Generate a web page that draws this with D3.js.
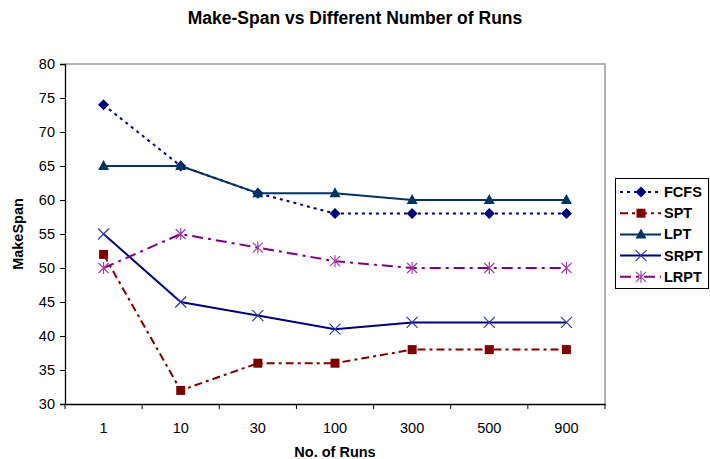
<!DOCTYPE html>
<html><head><meta charset="utf-8">
<script src="https://cdn.jsdelivr.net/npm/d3@7"></script>
<style>body{margin:0;background:#fff}svg{display:block;font-family:"Liberation Sans",Arial,sans-serif}</style>
</head><body><svg id="c" width="710" height="459"></svg>
<script>
const categories = ["1","10","30","100","300","500","900"];
const FCFS = [74,65,61,58,58,58,58];
const SPT  = [52,32,36,36,38,38,38];
const LPT  = [65,65,61,61,60,60,60];
const SRPT = [55,45,43,41,42,42,42];
const LRPT = [50,55,53,51,50,50,50];
const yTicks = [30,35,40,45,50,55,60,65,70,75,80];

const series = [
  {name:"FCFS", values:FCFS, color:"#000080", dash:"3,4", marker:"diamond"},
  {name:"SPT",  values:SPT,  color:"#800000", dash:"8,4,3,4", marker:"square"},
  {name:"LPT",  values:LPT,  color:"#003366", dash:null, marker:"triangle"},
  {name:"SRPT", values:SRPT, color:"#000080", dash:null, marker:"x"},
  {name:"LRPT", values:LRPT, color:"#800080", dash:"11,5,3,5", marker:"star"}
];

const svg = d3.select("#c");
const L=65, R=605, T=64, B=404;
const x = d3.scaleBand().domain(categories).range([L,R]);
const y = d3.scaleLinear().domain([30,80]).range([B,T]);

svg.append("path").attr("d",`M${L},${T}H${R}V${B}`).attr("fill","none").attr("stroke","#999").attr("stroke-width",1.5);

const ya = svg.append("g").attr("transform",`translate(${L},0)`)
  .call(d3.axisLeft(y).tickValues(yTicks).tickSize(5).tickPadding(5));
ya.select(".domain").attr("stroke","#000").attr("stroke-width",1.3);
ya.selectAll("text").attr("font-size",14.5).attr("fill","#000");
const xa = svg.append("g").attr("transform",`translate(0,${B})`)
  .call(d3.axisBottom(x).tickSize(0).tickPadding(19));
xa.select(".domain").attr("stroke","#000").attr("stroke-width",1.3);
xa.selectAll("text").attr("font-size",14.5).attr("fill","#000");
const bounds = categories.map(c=>x(c)).concat([R]);
svg.append("g").selectAll("line").data(bounds).join("line")
  .attr("x1",d=>d).attr("x2",d=>d).attr("y1",B).attr("y2",B+5).attr("stroke","#000").attr("stroke-width",1);

const cx = c => x(c)+x.bandwidth()/2;

function drawMarker(g, type, px, py, color){
  if(type==="diamond"){
    g.append("path").attr("d",`M${px},${py-5.5}L${px+5.5},${py}L${px},${py+5.5}L${px-5.5},${py}Z`).attr("fill",color);
  } else if(type==="square"){
    g.append("rect").attr("x",px-4.5).attr("y",py-4.5).attr("width",9).attr("height",9).attr("fill",color);
  } else if(type==="triangle"){
    g.append("path").attr("d",`M${px},${py-6}L${px+5.5},${py+4}L${px-5.5},${py+4}Z`).attr("fill",color);
  } else if(type==="x"){
    g.append("path").attr("d",`M${px-5.5},${py-5.5}L${px+5.5},${py+5.5}M${px+5.5},${py-5.5}L${px-5.5},${py+5.5}`).attr("stroke","#3333aa").attr("stroke-width",1.2);
  } else if(type==="star"){
    g.append("path").attr("d",`M${px-5},${py-5}L${px+5},${py+5}M${px+5},${py-5}L${px-5},${py+5}M${px},${py-6}L${px},${py+6}`).attr("stroke","#a040a0").attr("stroke-width",1.2);
  }
}

const line = d3.line().x((d,i)=>cx(categories[i])).y(d=>y(d));
series.forEach(s=>{
  const g = svg.append("g");
  g.append("path").datum(s.values).attr("d",line).attr("fill","none")
    .attr("stroke",s.color).attr("stroke-width",2).attr("stroke-dasharray",s.dash);
  s.values.forEach((v,i)=>drawMarker(g,s.marker,cx(categories[i]),y(v),s.color));
});

svg.append("text").attr("x",355).attr("y",24).attr("text-anchor","middle")
  .attr("font-size",17.5).attr("font-weight","bold").text("Make-Span vs Different Number of Runs");
svg.append("text").attr("x",335).attr("y",457).attr("text-anchor","middle")
  .attr("font-size",14.5).attr("font-weight","bold").text("No. of Runs");
svg.append("text").attr("transform",`translate(23,${(T+B)/2}) rotate(-90)`).attr("text-anchor","middle")
  .attr("font-size",14.5).attr("font-weight","bold").text("MakeSpan");

const lg = svg.append("g");
lg.append("rect").attr("x",615.5).attr("y",178.5).attr("width",93).attr("height",110).attr("fill","#fff").attr("stroke","#000").attr("stroke-width",1);
series.forEach((s,i)=>{
  const yy = 192 + i*21.2;
  lg.append("line").attr("x1",620).attr("x2",661).attr("y1",yy).attr("y2",yy)
    .attr("stroke",s.color).attr("stroke-width",2).attr("stroke-dasharray",s.dash);
  drawMarker(lg,s.marker,641,yy,s.color);
  lg.append("text").attr("x",664).attr("y",yy+5).attr("font-size",14.5).attr("font-weight","bold").text(s.name);
});
</script></body></html>
